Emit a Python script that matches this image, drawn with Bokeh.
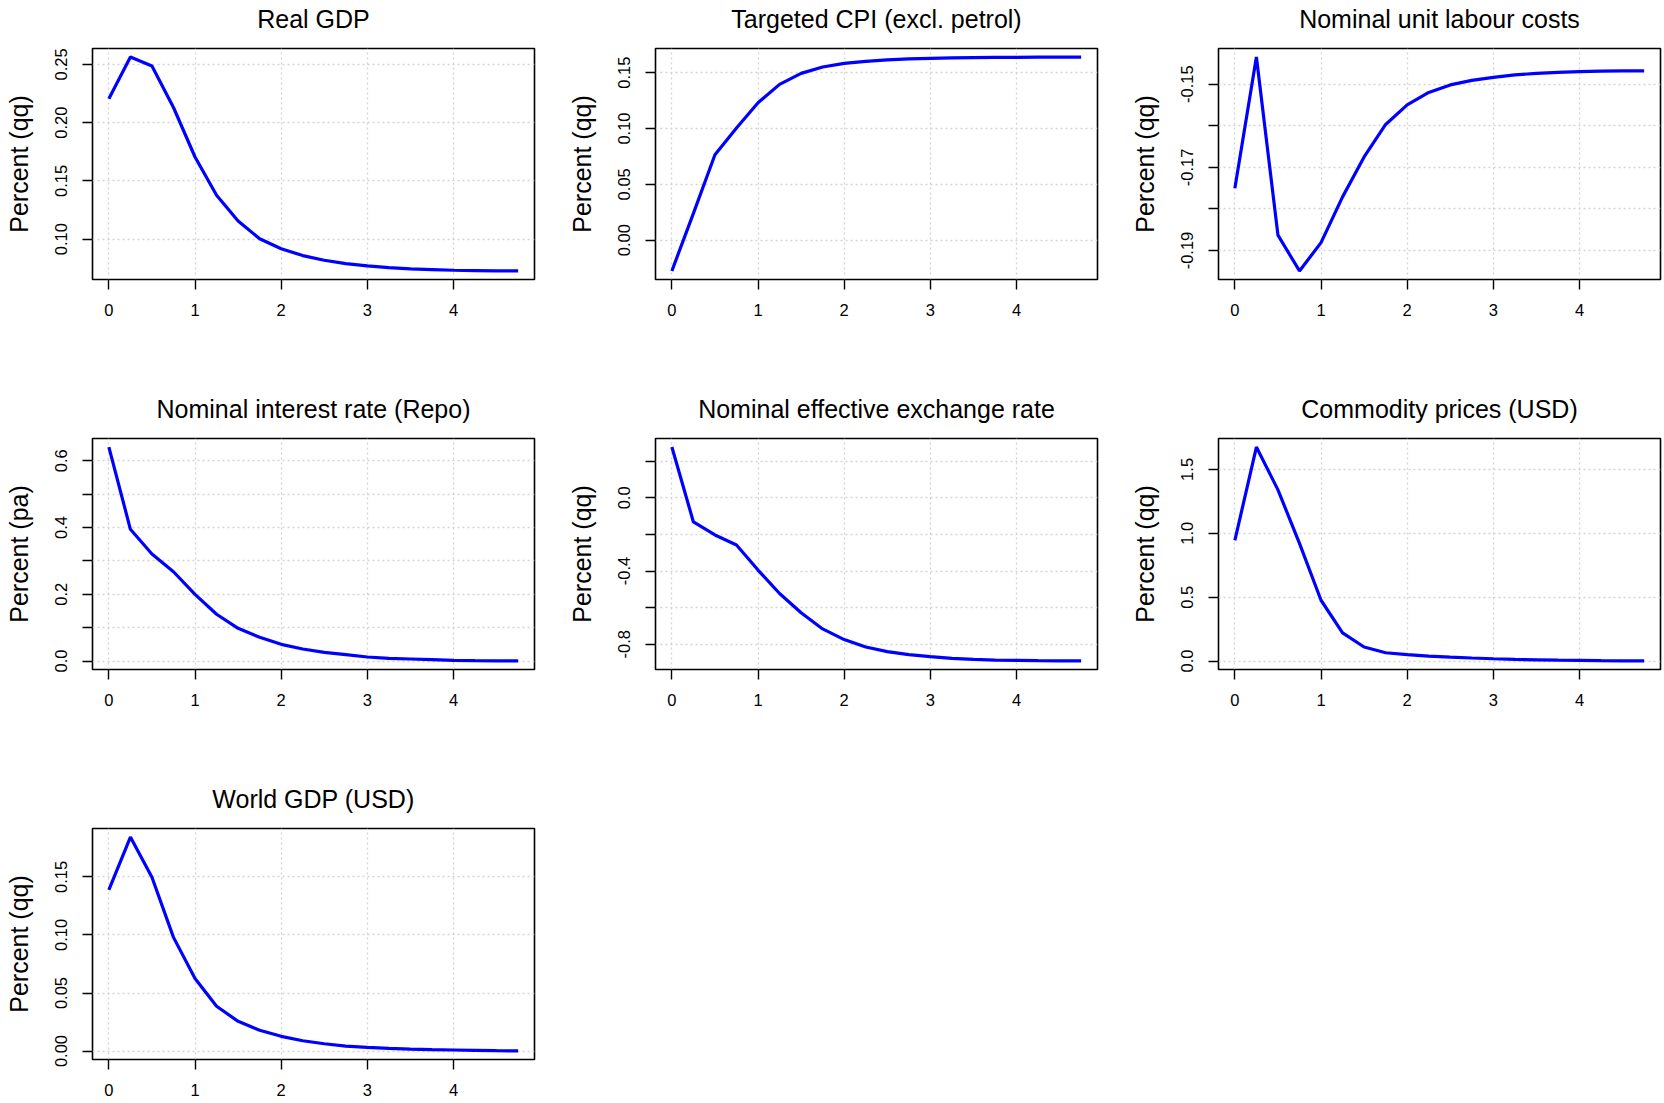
import math
from bokeh.plotting import figure
from bokeh.layouts import column, row
from bokeh.models import Range1d, FixedTicker, NumeralTickFormatter, LinearAxis
from bokeh.embed import file_html
from bokeh.resources import INLINE

# Horizon in years (quarterly steps)
years = [0.0, 0.25, 0.5, 0.75, 1.0, 1.25, 1.5, 1.75, 2.0, 2.25, 2.5, 2.75,
         3.0, 3.25, 3.5, 3.75, 4.0, 4.25, 4.5, 4.75]
x_ticks = [0, 1, 2, 3, 4]

real_gdp = [0.2205, 0.2563, 0.2486, 0.2130, 0.1705, 0.1376, 0.1155, 0.1003,
            0.0917, 0.0859, 0.0819, 0.0790, 0.0770, 0.0756, 0.0744, 0.0739,
            0.0733, 0.0730, 0.0727, 0.0727]
cpi = [-0.0276, 0.0240, 0.0765, 0.1005, 0.1230, 0.1395, 0.1494, 0.1551,
       0.1584, 0.1602, 0.1614, 0.1623, 0.1629, 0.1632, 0.1635, 0.1637,
       0.1638, 0.1639, 0.1640, 0.1640]
nulc = [-0.1750, -0.1435, -0.1863, -0.1949, -0.1881, -0.1771, -0.1675, -0.1597,
        -0.1550, -0.1520, -0.1502, -0.1491, -0.1484, -0.1478, -0.1474, -0.1472,
        -0.1470, -0.1469, -0.1468, -0.1468]
repo = [0.641, 0.3946, 0.3205, 0.2674, 0.1996, 0.1402, 0.0980, 0.0711,
        0.0500, 0.0360, 0.0260, 0.0190, 0.0120, 0.0080, 0.0060, 0.0040,
        0.0020, 0.0012, 0.0006, 0.0002]
neer = [0.2776, -0.1315, -0.2027, -0.2575, -0.3945, -0.5224, -0.6280, -0.7160,
        -0.7744, -0.8146, -0.8400, -0.8566, -0.8676, -0.8767, -0.8820, -0.8860,
        -0.8877, -0.8895, -0.8910, -0.8910]
commodity = [0.945, 1.675, 1.340, 0.921, 0.476, 0.220, 0.110, 0.065,
             0.050, 0.039, 0.031, 0.024, 0.018, 0.013, 0.010, 0.007,
             0.005, 0.003, 0.002, 0.001]
world_gdp = [0.1388, 0.1843, 0.1497, 0.0979, 0.0625, 0.0386, 0.0256, 0.0179,
             0.0127, 0.0089, 0.0063, 0.0043, 0.0032, 0.0023, 0.0017, 0.0012,
             0.0009, 0.0006, 0.0003, 0.0001]

titles = ["Real GDP", "Targeted CPI (excl. petrol)", "Nominal unit labour costs",
          "Nominal interest rate (Repo)", "Nominal effective exchange rate",
          "Commodity prices (USD)", "World GDP (USD)"]
ylabels = ["Percent (qq)", "Percent (qq)", "Percent (qq)", "Percent (pa)",
           "Percent (qq)", "Percent (qq)", "Percent (qq)"]
series = [real_gdp, cpi, nulc, repo, neer, commodity, world_gdp]

# labelled y ticks and unlabelled y ticks per panel
y_major = [[0.10, 0.15, 0.20, 0.25], [0.00, 0.05, 0.10, 0.15], [-0.15, -0.17, -0.19],
           [0.0, 0.2, 0.4, 0.6], [0.0, -0.4, -0.8], [0.0, 0.5, 1.0, 1.5],
           [0.00, 0.05, 0.10, 0.15]]
y_minor = [[], [], [-0.16, -0.18], [0.1, 0.3, 0.5], [0.2, -0.2, -0.6], [], []]
y_formats = ["0.00", "0.00", "0.00", "0.0", "0.0", "0.0", "0.00"]

FONT = "Liberation Sans"
FRAME_W, FRAME_H = 442, 231
LEFT, TOP = 92, 48
col_w = [563, 563, 538]
row_h = [390, 390, 323]


def padded(vals, frac=0.04):
    lo, hi = min(vals), max(vals)
    d = (hi - lo) * frac
    return lo - d, hi + d


def make_panel(i, cw, rh):
    xs = years
    ys = series[i]
    x0, x1 = padded(xs)
    y0, y1 = padded(ys)
    p = figure(frame_width=FRAME_W, frame_height=FRAME_H,
               x_range=Range1d(x0, x1), y_range=Range1d(y0, y1),
               output_backend="svg", toolbar_location=None,
               min_border_left=LEFT, min_border_top=TOP,
               min_border_right=cw - LEFT - FRAME_W,
               min_border_bottom=rh - TOP - FRAME_H)
    p.background_fill_color = "white"
    p.border_fill_color = "white"
    p.outline_line_color = "black"
    p.outline_line_width = 1.6

    p.xaxis.ticker = FixedTicker(ticks=x_ticks)
    p.yaxis.ticker = FixedTicker(ticks=y_major[i], minor_ticks=y_minor[i])
    p.yaxis.formatter = NumeralTickFormatter(format=y_formats[i])
    for ax in (p.xaxis, p.yaxis):
        ax.axis_line_color = None
        ax.major_tick_in = 0
        ax.major_tick_out = 10
        ax.major_tick_line_color = "black"
        ax.major_tick_line_width = 1.4
        ax.major_label_text_font = FONT
        ax.major_label_text_font_size = "16.5px"
        ax.major_label_text_color = "black"
    p.xaxis.minor_tick_line_color = None
    p.xaxis.major_label_standoff = 14
    p.yaxis.minor_tick_in = 0
    p.yaxis.minor_tick_out = 10
    p.yaxis.minor_tick_line_color = "black"
    p.yaxis.minor_tick_line_width = 1.4
    p.yaxis.major_label_orientation = "vertical"
    p.yaxis.major_label_standoff = 15
    p.yaxis.axis_label = ylabels[i]
    p.yaxis.axis_label_text_font = FONT
    p.yaxis.axis_label_text_font_size = "25px"
    p.yaxis.axis_label_text_font_style = "normal"
    p.yaxis.axis_label_text_color = "black"
    p.yaxis.axis_label_standoff = 20

    for g in (p.xgrid, p.ygrid):
        g.grid_line_color = "#d3d3d3"
        g.grid_line_dash = "2 3"
        g.grid_line_width = 1.3
    p.ygrid.minor_grid_line_color = "#d3d3d3"
    p.ygrid.minor_grid_line_dash = "2 3"
    p.ygrid.minor_grid_line_width = 1.3

    p.line(xs, ys, line_color="#0000ff", line_width=3.2)

    # main title: an empty top axis that carries only its label
    top = LinearAxis(ticker=FixedTicker(ticks=[]), axis_label=titles[i],
                     axis_line_color=None, major_tick_line_color=None,
                     minor_tick_line_color=None, major_tick_out=0,
                     major_tick_in=0, minor_tick_out=0, minor_tick_in=0,
                     major_label_standoff=0,
                     major_label_text_font_size="0px",
                     axis_label_standoff=16,
                     axis_label_text_font=FONT,
                     axis_label_text_font_size="25px",
                     axis_label_text_font_style="normal",
                     axis_label_text_color="black")
    p.add_layout(top, "above")
    return p


k = 0
rows = []
layout_rows = [3, 3, 1]
for r, n in enumerate(layout_rows):
    figs = []
    for c in range(n):
        figs.append(make_panel(k, col_w[c], row_h[r]))
        k += 1
    rows.append(row(*figs))

layout = column(*rows)
open("out.html", "w").write(file_html(layout, INLINE))
